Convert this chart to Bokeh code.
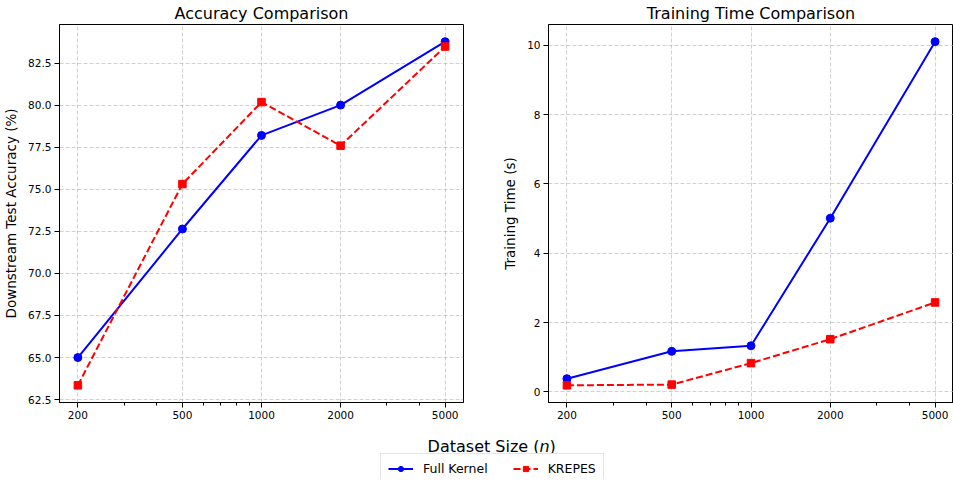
from bokeh.plotting import figure
from bokeh.layouts import column, row
from bokeh.models import Range1d, FixedTicker, Legend, LegendItem
from bokeh.core.properties import value
from bokeh.embed import file_html
from bokeh.resources import INLINE
import math

sizes = [200, 500, 1000, 2000, 5000]
size_labels = ["200", "500", "1000", "2000", "5000"]
minor_sizes = [300, 400, 600, 700, 800, 900, 3000, 4000]
acc_full = [65.0, 72.64, 78.2, 80.0, 83.77]
acc_krepes = [63.35, 75.31, 80.18, 77.59, 83.48]
time_full = [0.38, 1.17, 1.33, 5.01, 10.1]
time_krepes = [0.19, 0.21, 0.83, 1.52, 2.58]
acc_ticks = [62.5, 65.0, 67.5, 70.0, 72.5, 75.0, 77.5, 80.0, 82.5]
time_ticks = [0, 2, 4, 6, 8, 10]

FONT = "DejaVu Sans"
BLUE = "#0000ff"
RED = "#ff0000"
NAN = float("nan")


def pad_range(vals, frac=0.05):
    lo, hi = min(vals), max(vals)
    d = (hi - lo) * frac
    return lo - d, hi + d


def log_pad_range(vals, frac=0.05):
    lo, hi = math.log10(min(vals)), math.log10(max(vals))
    d = (hi - lo) * frac
    return 10 ** (lo - d), 10 ** (hi + d)


def make_fig(title, ylabel, yfull, ykrepes, yticks, ylabels, fw, fh, bl, br):
    x0, x1 = log_pad_range(sizes)
    y0, y1 = pad_range(yfull + ykrepes)
    p = figure(x_axis_type="log", x_range=Range1d(x0, x1), y_range=Range1d(y0, y1),
               frame_width=fw, frame_height=fh, output_backend="svg",
               toolbar_location=None, title=title,
               min_border_left=bl, min_border_right=br, min_border_top=16,
               min_border_bottom=20)
    p.title.text_font = FONT
    p.title.text_font_size = "16px"
    p.title.text_font_style = "normal"
    p.title.align = "center"
    p.title.text_color = "#000000"
    p.title.standoff = 3
    p.title.offset = 0

    p.xaxis.ticker = FixedTicker(ticks=sizes, minor_ticks=minor_sizes)
    p.xaxis.major_label_overrides = {s: l for s, l in zip(sizes, size_labels)}
    p.yaxis.ticker = FixedTicker(ticks=yticks)
    p.yaxis.major_label_overrides = {t: l for t, l in zip(yticks, ylabels)}
    p.yaxis.axis_label = ylabel
    p.yaxis.axis_label_text_font = FONT
    p.yaxis.axis_label_text_font_size = "13.5px"
    p.yaxis.axis_label_text_font_style = "normal"
    p.yaxis.axis_label_text_color = "#000000"
    p.yaxis.axis_label_standoff = 6
    for ax in (p.xaxis, p.yaxis):
        ax.major_label_text_font = FONT
        ax.major_label_text_font_size = "10.5px"
        ax.major_label_text_color = "#000000"
        ax.axis_line_color = "#000000"
        ax.major_tick_line_color = "#000000"
        ax.minor_tick_line_color = "#000000"
        ax.major_tick_in = 0
        ax.major_tick_out = 5
        ax.minor_tick_in = 0
        ax.minor_tick_out = 3
        ax.major_label_standoff = 3
    p.yaxis.minor_tick_line_color = None
    p.outline_line_color = "#000000"
    p.outline_line_alpha = 1.0
    for g in (p.xgrid, p.ygrid):
        g.grid_line_color = "#b0b0b0"
        g.grid_line_alpha = 0.6
        g.grid_line_dash = "4 2"
        g.grid_line_width = 1

    p.line(sizes, yfull, line_color=BLUE, line_width=2)
    p.scatter(sizes, yfull, marker="circle", size=8, fill_color=BLUE, line_color=BLUE)
    p.line(sizes, ykrepes, line_color=RED, line_width=2, line_dash="7 3")
    p.scatter(sizes, ykrepes, marker="square", size=7.5, fill_color=RED, line_color=RED)
    return p


p1 = make_fig("Accuracy Comparison", "Downstream Test Accuracy (%)", acc_full, acc_krepes,
              acc_ticks, ["%.1f" % t for t in acc_ticks], 404, 378, 49, 36)
p2 = make_fig("Training Time Comparison", "Training Time (s)", time_full, time_krepes,
              time_ticks, [str(t) for t in time_ticks], 405, 378, 40, 0)

# bottom panel: shared x label + legend
p3 = figure(width=937, height=57, x_range=Range1d(0, 937), y_range=Range1d(0, 57),
            output_backend="svg", toolbar_location=None,
            min_border=0)
p3.axis.visible = False
p3.grid.visible = False
p3.outline_line_color = None
anchor = 539
ly = 33
p3.text(x=[anchor], y=[ly], text=["Dataset Size ("], text_font=value(FONT),
        text_font_size="16px", text_align="right", text_baseline="middle", text_color="#000000")
p3.text(x=[anchor], y=[ly], text=["n"], text_font=value(FONT), text_font_style="italic",
        text_font_size="16px", text_align="left", text_baseline="middle", text_color="#000000")
p3.text(x=[anchor + 10], y=[ly], text=[")"], text_font=value(FONT),
        text_font_size="16px", text_align="left", text_baseline="middle", text_color="#000000")

lf = p3.line([NAN], [NAN], line_color=BLUE, line_width=2)
sf = p3.scatter([NAN], [NAN], marker="circle", size=8, fill_color=BLUE, line_color=BLUE)
lk = p3.line([NAN], [NAN], line_color=RED, line_width=2, line_dash="7 3")
sk = p3.scatter([NAN], [NAN], marker="square", size=7.5, fill_color=RED, line_color=RED)
legend = Legend(items=[LegendItem(label="Full Kernel", renderers=[lf, sf]),
                       LegendItem(label="KREPES", renderers=[lk, sk])],
                orientation="horizontal", location=(380, -5),
                label_text_font=FONT, label_text_font_size="12.5px",
                label_text_color="#000000",
                glyph_width=25, glyph_height=13, label_standoff=10, spacing=25,
                padding=7, margin=0,
                border_line_color="#cccccc", border_line_width=1,
                background_fill_color="white", background_fill_alpha=1.0)
p3.add_layout(legend, "center")

layout = column(row(p1, p2), p3)
open("out.html", "w").write(file_html(layout, INLINE))
